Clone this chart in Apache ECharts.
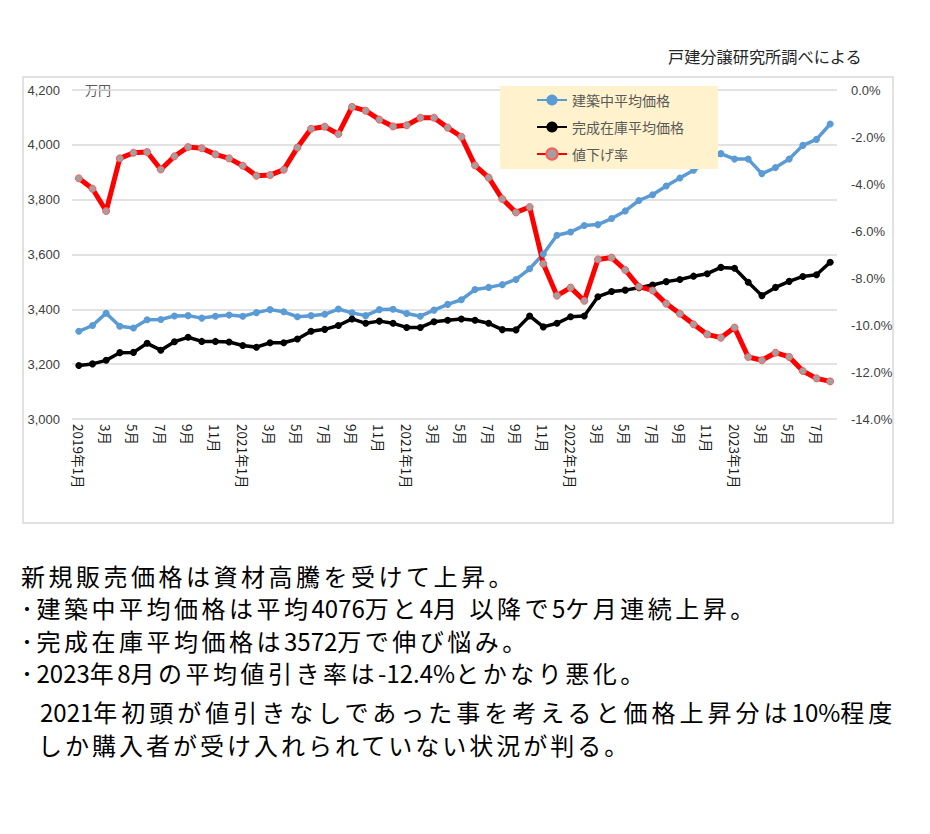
<!DOCTYPE html>
<html lang="ja">
<head>
<meta charset="utf-8">
<title>建築中・完成在庫平均価格と値下げ率</title>
<script src="https://cdn.jsdelivr.net/npm/echarts@6.0.0/dist/echarts.min.js"></script>
<style>
  html, body { margin: 0; padding: 0; background: #fff; }
  #wrap { position: relative; width: 930px; height: 834px; overflow: hidden; }
  #chart { position: absolute; left: 0; top: 0; width: 930px; height: 834px; }
  .note { position: absolute; white-space: nowrap; font-family: 'Noto Sans CJK JP', sans-serif;
          font-size: 24px; letter-spacing: 3.5px; line-height: 28px; color: #000; }
  .note .d { letter-spacing: 0; }
</style>
</head>
<body>
<div id="wrap">
  <div id="chart"></div>
  <div class="note" style="left:21px; top:562px;">新規販売価格は資材高騰を受けて上昇。</div>
  <div class="note" style="left:21px; top:594px;">･建築中平均価格は平均<span class="d">4076</span>万と<span class="d">4</span>月 以降で<span class="d">5</span>ケ月連続上昇。</div>
  <div class="note" style="left:21px; top:627px;">･完成在庫平均価格は<span class="d">3572</span>万で伸び悩み。</div>
  <div class="note" style="left:21px; top:659px;">･<span class="d">2023</span>年<span class="d">8</span>月の平均値引き率は<span class="d">-12.4%</span>とかなり悪化。</div>
  <div class="note" style="left:40px; top:698px; letter-spacing:4px;"><span class="d">2021</span>年初頭が値引きなしであった事を考えると価格上昇分は<span class="d">10%</span>程度</div>
  <div class="note" style="left:38px; top:731px; letter-spacing:3px;">しか購入者が受け入れられていない状況が判る。</div>
</div>
<script>
// ---- data ----
const categories = [
  '2019年1月','2月','3月','4月','5月','6月','7月','8月','9月','10月','11月','12月',
  '2021年1月','2月','3月','4月','5月','6月','7月','8月','9月','10月','11月','12月',
  '2021年1月','2月','3月','4月','5月','6月','7月','8月','9月','10月','11月','12月',
  '2022年1月','2月','3月','4月','5月','6月','7月','8月','9月','10月','11月','12月',
  '2023年1月','2月','3月','4月','5月','6月','7月','8月'
];
const seriesNames = ['建築中平均価格', '完成在庫平均価格', '値下げ率'];
const underConstruction = [
  3320,3341,3386,3338,3332,3362,3363,3376,3377,3368,3375,3379,
  3375,3388,3399,3391,3373,3377,3382,3401,3387,3377,3399,3400,
  3385,3375,3397,3418,3435,3472,3480,3490,3509,3548,3602,3670,
  3682,3706,3709,3731,3759,3797,3818,3850,3879,3907,3937,3968,
  3948,3948,3895,3917,3948,3998,4020,4076
];
const completedStock = [
  3195,3201,3214,3242,3243,3276,3251,3282,3298,3283,3283,3281,
  3268,3262,3278,3278,3292,3320,3327,3341,3365,3349,3357,3349,
  3334,3334,3355,3360,3365,3360,3349,3326,3325,3376,3336,3349,
  3373,3376,3446,3465,3470,3479,3489,3501,3509,3521,3530,3553,
  3550,3499,3450,3480,3502,3520,3526,3572
];
const discountRate = [
  -3.76,-4.20,-5.15,-2.91,-2.67,-2.64,-3.38,-2.82,-2.43,-2.48,-2.74,-2.91,
  -3.22,-3.65,-3.62,-3.39,-2.45,-1.65,-1.56,-1.87,-0.72,-0.88,-1.26,-1.55,
  -1.50,-1.18,-1.18,-1.60,-1.99,-3.21,-3.73,-4.64,-5.21,-4.98,-7.39,-8.75,
  -8.41,-8.97,-7.21,-7.13,-7.66,-8.37,-8.53,-9.09,-9.52,-9.97,-10.40,-10.54,
  -10.11,-11.36,-11.50,-11.18,-11.36,-11.96,-12.27,-12.40
];
const unitLabel = '万円';
const sourceLabel = '戸建分譲研究所調べによる';

// ---- chart ----
const chart = echarts.init(document.getElementById('chart'), null, { renderer: 'svg', width: 930, height: 834 });
const numFont = "'Liberation Sans', Arial, sans-serif";
const jpFont = "'Noto Sans CJK JP', sans-serif";

chart.setOption({
  animation: false,
  backgroundColor: '#ffffff',
  grid: { left: 72, right: 93, top: 90, bottom: 415, containLabel: false },
  xAxis: {
    type: 'category',
    data: categories,
    boundaryGap: true,
    axisLine: { show: false },
    axisTick: { show: false },
    axisLabel: {
      interval: 1,
      rotate: -90,
      margin: 5,
      fontSize: 13.5,
      fontFamily: jpFont,
      color: '#1a1a1a'
    }
  },
  yAxis: [
    {
      type: 'value',
      position: 'left',
      min: 3000, max: 4200, interval: 200,
      axisLine: { show: false },
      axisTick: { show: false },
      axisLabel: {
        margin: 12,
        fontSize: 13,
        fontFamily: numFont,
        color: '#404040',
        formatter: v => v.toLocaleString('en-US')
      },
      splitLine: { lineStyle: { color: '#d9d9d9', width: 1.5 } }
    },
    {
      type: 'value',
      position: 'right',
      min: -14, max: 0, interval: 2,
      axisLine: { show: false },
      axisTick: { show: false },
      axisLabel: {
        margin: 14,
        fontSize: 13,
        fontFamily: numFont,
        color: '#404040',
        formatter: v => v.toFixed(1) + '%'
      },
      splitLine: { show: false }
    }
  ],
  legend: {
    orient: 'vertical',
    left: 500,
    top: 86,
    padding: [7, 34, 8, 36],
    itemGap: 13,
    itemWidth: 30,
    itemHeight: 14,
    backgroundColor: '#FFF2CC',
    textStyle: { fontSize: 14, color: '#595959', fontFamily: jpFont },
    data: seriesNames
  },
  graphic: [
    {
      type: 'rect', silent: true, z: -10,
      shape: { x: 23, y: 77, width: 870, height: 446 },
      style: { fill: 'none', stroke: '#d9d9d9', lineWidth: 1.5 }
    },
    {
      type: 'text', left: 85, top: 83,
      style: { text: unitLabel, fontSize: 13, fontFamily: jpFont, fill: '#595959' }
    },
    {
      type: 'text', left: 668, top: 48,
      style: { text: sourceLabel, fontSize: 16.2, fontFamily: jpFont, fill: '#262626' }
    }
  ],
  series: [
    {
      name: seriesNames[0], type: 'line', yAxisIndex: 0, data: underConstruction,
      symbol: 'circle', symbolSize: 7, showAllSymbol: true,
      lineStyle: { width: 3.5, color: '#5B9BD5' },
      itemStyle: { color: '#5B9BD5' },
      emphasis: { disabled: true }
    },
    {
      name: seriesNames[1], type: 'line', yAxisIndex: 0, data: completedStock,
      symbol: 'circle', symbolSize: 7, showAllSymbol: true,
      lineStyle: { width: 3.5, color: '#000000' },
      itemStyle: { color: '#000000' },
      emphasis: { disabled: true }
    },
    {
      name: seriesNames[2], type: 'line', yAxisIndex: 1, data: discountRate,
      symbol: 'circle', symbolSize: 7, showAllSymbol: true,
      lineStyle: { width: 5, color: '#FF0000' },
      itemStyle: { color: '#A0A0A0', borderColor: '#FF5A5A', borderWidth: 1 },
      emphasis: { disabled: true }
    }
  ]
});
</script>
</body>
</html>
